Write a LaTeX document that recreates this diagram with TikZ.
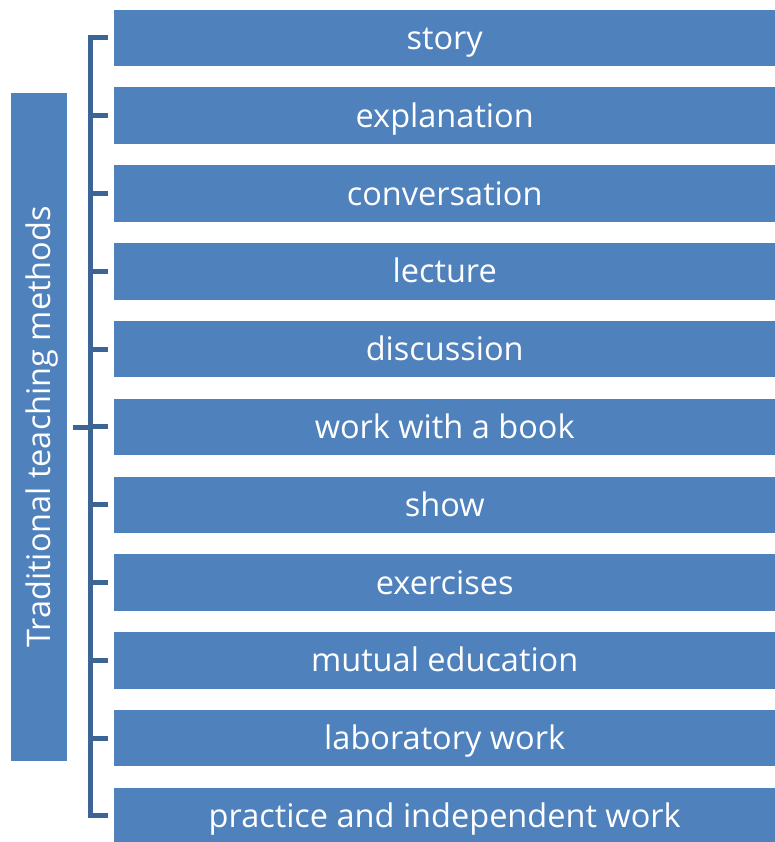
\documentclass[tikz,border=0pt]{standalone}
\usepackage{fontspec}
\setmainfont{Open Sans}
\definecolor{boxblue}{HTML}{4F81BD}
\definecolor{brk}{HTML}{3C6494}
\begin{document}
\begin{tikzpicture}[x=1pt,y=-1pt,
  itembox/.style={fill=boxblue, draw=none, minimum width=661pt, minimum height=56.5pt,
    inner sep=0pt, text=white, anchor=north west, font=\fontsize{32.5}{38}\selectfont,
    text height=29pt, text depth=6pt},
  titlebox/.style={fill=boxblue, draw=none, minimum width=668pt, minimum height=56pt,
    inner sep=0pt, text=white, rotate=90, font=\fontsize{32.5}{38}\selectfont,
    text height=29pt, text depth=6pt},
  bracket/.style={draw=brk, line width=5pt}]
\useasboundingbox (0,0) rectangle (775,842);
\foreach \t [count=\i] in {story,explanation,conversation,lecture,discussion,work with a book,show,exercises,mutual education,laboratory work,practice and independent work}{
  \node[itembox] (b\i) at (114,{9.5+77.8*(\i-1)}) {\t};
}
\node[titlebox] (title) at (39,427) {Traditional teaching methods};
\coordinate (spine) at (90.5,0);
\draw[bracket] ([xshift=-6pt]b1.west) -- (b1.west -| spine) -- (b11.west -| spine) -- ([xshift=-6pt]b11.west);
\foreach \i in {2,...,10}{
  \draw[bracket] ([xshift=-6pt]b\i.west) -- (b\i.west -| spine);
}
\draw[bracket] ([xshift=34pt]title.center) -- (title.center -| spine);
\end{tikzpicture}
\end{document}
